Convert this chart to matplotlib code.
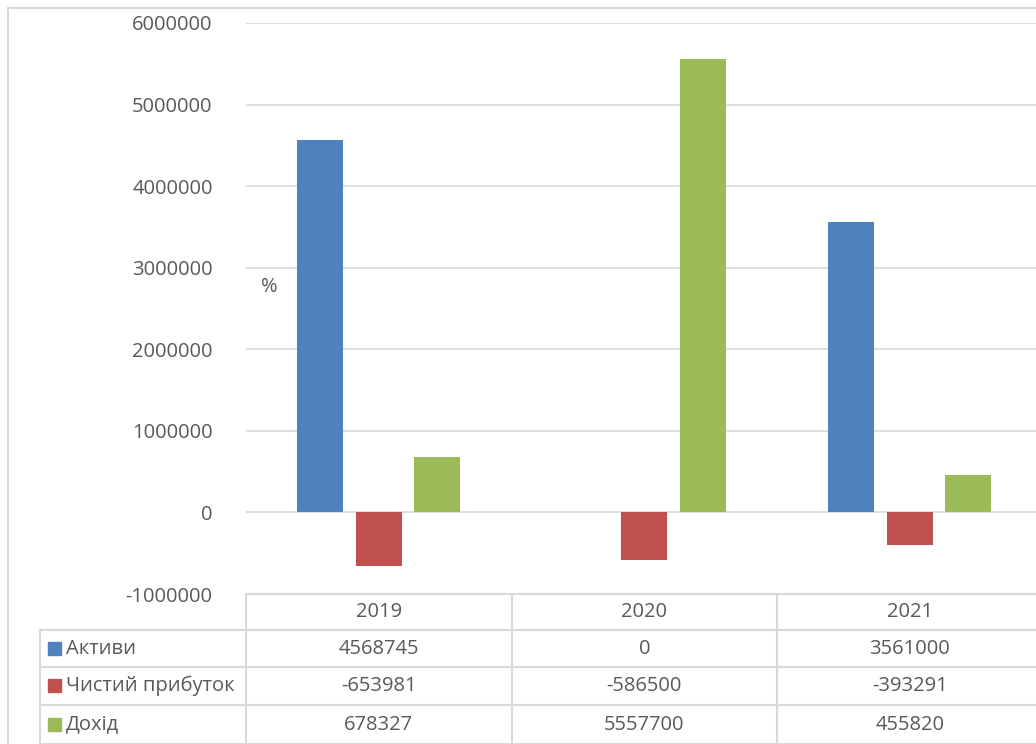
import matplotlib
matplotlib.use("Agg")
import matplotlib.pyplot as plt
import matplotlib.transforms as mtransforms
from matplotlib.lines import Line2D
from matplotlib.patches import Rectangle

years = ["2019", "2020", "2021"]
series_names = ["Активи", "Чистий прибуток", "Дохід"]
aktyvy = [4568745, 0, 3561000]
prybutok = [-653981, -586500, -393291]
dokhid = [678327, 5557700, 455820]
yticks = [-1000000, 0, 1000000, 2000000, 3000000, 4000000, 5000000, 6000000]

colors = ["#4F81BD", "#C0504D", "#9BBB59"]
grid_c = "#D9D9D9"
text_c = "#595959"
fs = 14.5

plt.rcParams["font.family"] = ["Open Sans", "DejaVu Sans"]

W, H = 1036, 744
fig = plt.figure(figsize=(W / 100, H / 100), dpi=100)


def fx(px):
    return px / W


def fy(py):
    return 1 - py / H


# plot area runs slightly past the right edge of the canvas
left_px, right_px, top_px, bot_px = 246, 1042.5, 23, 594
ax = fig.add_axes([fx(left_px), fy(bot_px), fx(right_px - left_px), (bot_px - top_px) / H])

all_series = [aktyvy, prybutok, dokhid]
bw = 0.173
offs = [-0.22, 0.0, 0.22]
xs = range(len(years))
for vals, off, c in zip(all_series, offs, colors):
    ax.bar([x + off for x in xs], vals, width=bw, color=c, zorder=3)

ax.set_xlim(-0.5, len(years) - 0.5)
ax.set_ylim(yticks[0], yticks[-1])
ax.set_yticks(yticks)
ax.set_yticklabels([str(v) for v in yticks])
ax.set_xticks([])
ax.tick_params(axis="y", length=0, pad=24, labelsize=fs, labelcolor=text_c)
ax.grid(axis="y", color=grid_c, linewidth=1.2, zorder=0)
for s in ax.spines.values():
    s.set_visible(False)

fig.text(fx(261), fy(287), "%", fontsize=fs, color=text_c, va="center")

# chart border
fig.add_artist(Line2D([fx(8), fx(8)], [fy(8), 0], color=grid_c, lw=1.5))
fig.add_artist(Line2D([fx(8), 1], [fy(8), fy(8)], color=grid_c, lw=1.5))

# data table under the axis
row_y = [594, 630, 667, 705, 744]
col_x = [left_px + i * (right_px - left_px) / len(years) for i in range(len(years) + 1)]
for i, y in enumerate(row_y):
    x0 = left_px if i == 0 else 40
    fig.add_artist(Line2D([fx(x0), 1.01], [fy(y), fy(y)], color=grid_c, lw=1.5))
fig.add_artist(Line2D([fx(40), fx(40)], [fy(630), 0], color=grid_c, lw=1.5))
for x in col_x:
    fig.add_artist(Line2D([fx(x), fx(x)], [fy(594), 0], color=grid_c, lw=1.5))

blend = mtransforms.blended_transform_factory(ax.transData, fig.transFigure)
for i, yr in enumerate(years):
    fig.text(i, fy((row_y[0] + row_y[1]) / 2), yr, transform=blend,
             ha="center", va="center", fontsize=fs, color=text_c)

for r, (name, vals, c) in enumerate(zip(series_names, all_series, colors)):
    yc = (row_y[r + 1] + row_y[r + 2]) / 2
    fig.add_artist(Rectangle((fx(48), fy(yc + 6)), fx(13), 13 / H, color=c))
    fig.text(fx(66), fy(yc), name, ha="left", va="center", fontsize=fs, color=text_c)
    for i, v in enumerate(vals):
        fig.text(i, fy(yc), str(v), transform=blend,
                 ha="center", va="center", fontsize=fs, color=text_c)

fig.savefig("out.png", dpi=100)
